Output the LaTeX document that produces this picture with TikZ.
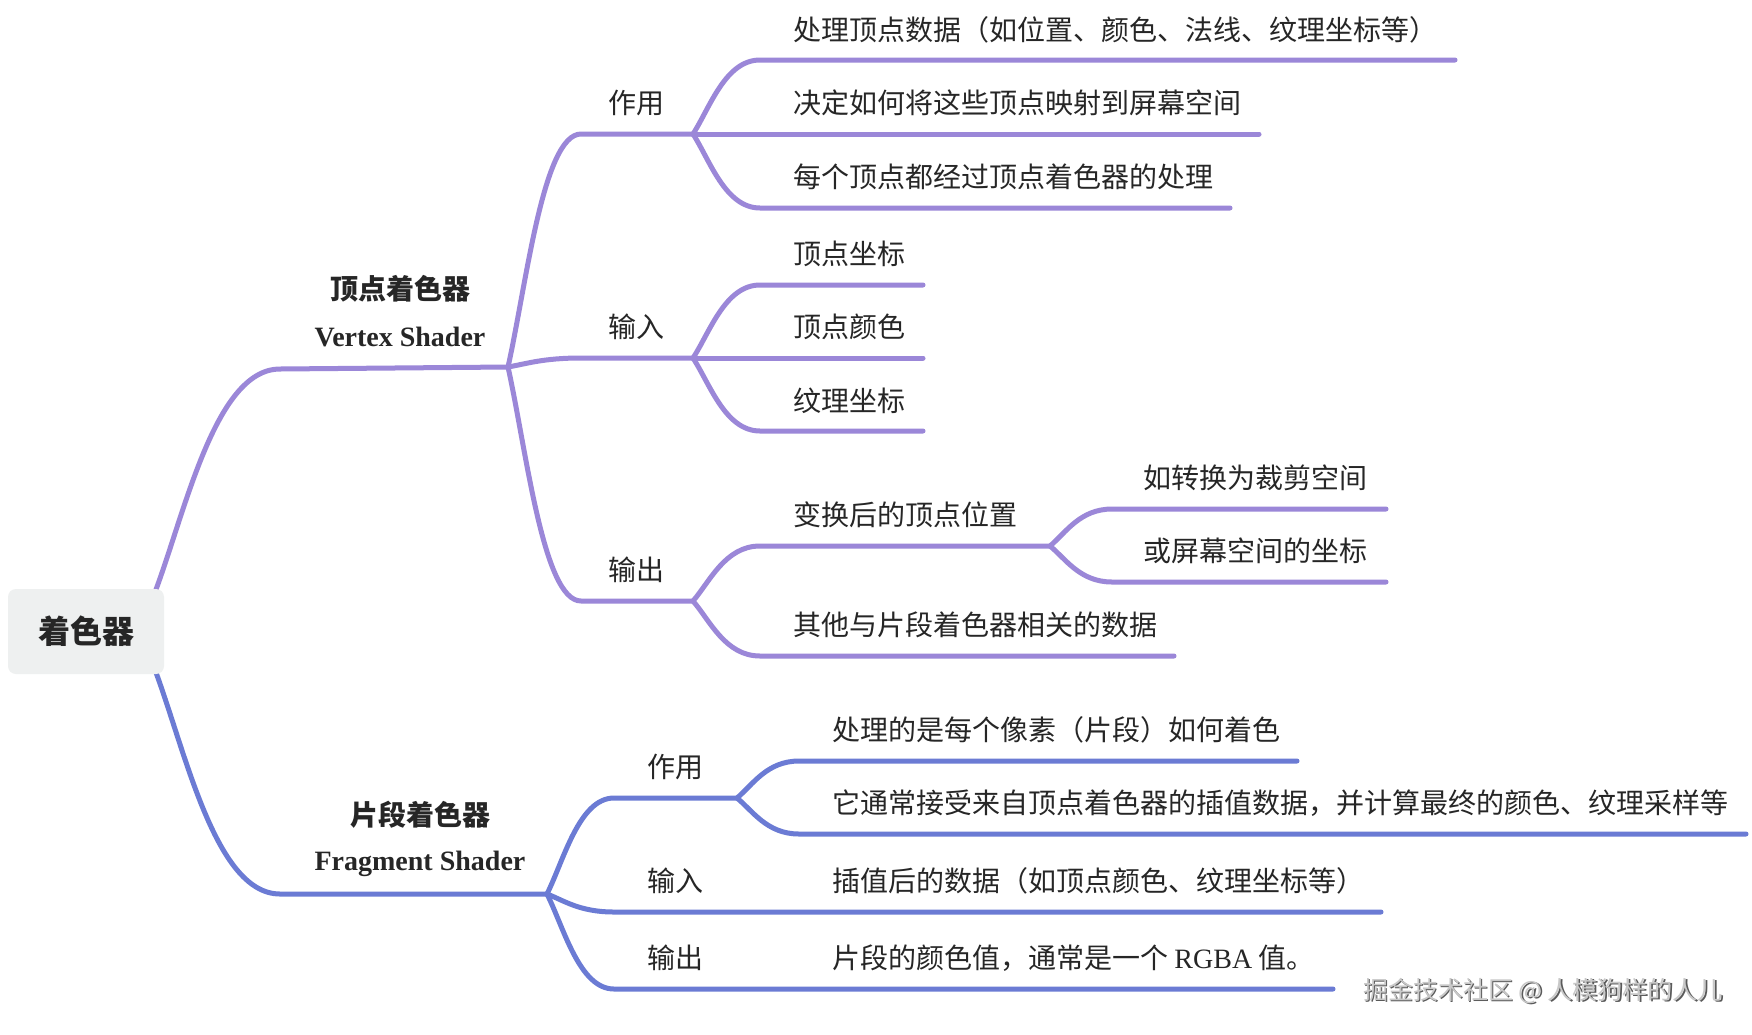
\documentclass[tikz,border=0pt]{standalone}
\usepackage{fontspec}
\setmainfont{Liberation Serif}
\newfontfamily\cjk{Noto Sans CJK SC}
\usetikzlibrary{calc}
\definecolor{vpur}{HTML}{9B87D8}
\definecolor{fblu}{HTML}{6B7BD4}
\definecolor{txt}{HTML}{262626}
\definecolor{rootbg}{HTML}{EEF0F0}
\definecolor{wmfg}{HTML}{C8C8C8}
\definecolor{wmsh}{HTML}{5A5A5A}
\tikzset{
  mm/.style={to path={let \p1=(\tikztostart),\p2=(\tikztotarget) in
     .. controls ({\x1+0.25*(\x2-\x1)},{\y1+0.35*(\y2-\y1)}) and ({\x1+0.48*(\x2-\x1)},\y2) .. (\tikztotarget)}},
  vline/.style={draw=vpur, line width=5pt, line cap=round, line join=round},
  fline/.style={draw=fblu, line width=5pt, line cap=round, line join=round},
  lbl/.style={font=\cjk\fontsize{28}{34}\selectfont, text=txt, inner sep=0pt},
  leaf/.style={lbl, anchor=west},
  ttl/.style={font=\cjk\bfseries\fontsize{28}{34}\selectfont, text=txt, inner sep=0pt},
  ttlen/.style={font=\bfseries\fontsize{28}{34}\selectfont, text=txt, inner sep=0pt},
  wm/.style={font=\cjk\fontsize{25}{30}\selectfont, inner sep=0pt},
}
\begin{document}
\begin{tikzpicture}[x=1pt,y=1pt]
\useasboundingbox[fill=white] (0,0) rectangle (1752,-1034);
% coordinates
\coordinate (r1) at (152,-600);
\coordinate (r2) at (152,-662);
\coordinate (vsL) at (280,-369);
\coordinate (vsJ) at (508,-367);
\coordinate (fsL) at (280,-894);
\coordinate (fsJ) at (547,-894);
% vertex
\coordinate (vaL) at (581,-134); \coordinate (vaJ) at (693,-134);
\coordinate (viL) at (581,-358); \coordinate (viJ) at (693,-358);
\coordinate (voL) at (581,-601); \coordinate (voJ) at (693,-601);
\coordinate (va1L) at (760,-60);  \coordinate (va1E) at (1455,-60);
\coordinate (va2E) at (1259,-134);
\coordinate (va3L) at (760,-208); \coordinate (va3E) at (1230,-208);
\coordinate (vi1L) at (760,-285); \coordinate (vi1E) at (923,-285);
\coordinate (vi2E) at (923,-358);
\coordinate (vi3L) at (760,-431); \coordinate (vi3E) at (923,-431);
\coordinate (vo1L) at (760,-546); \coordinate (vo1J) at (1050,-546);
\coordinate (vo2L) at (760,-656); \coordinate (vo2E) at (1174,-656);
\coordinate (vo11L) at (1112,-509); \coordinate (vo11E) at (1386,-509);
\coordinate (vo12L) at (1112,-582); \coordinate (vo12E) at (1386,-582);
% fragment
\coordinate (faL) at (614,-798); \coordinate (faJ) at (737,-798);
\coordinate (fiL) at (614,-912); \coordinate (fiE) at (1381,-912);
\coordinate (foL) at (614,-989); \coordinate (foE) at (1333,-989);
\coordinate (fa1L) at (799,-761); \coordinate (fa1E) at (1297,-761);
\coordinate (fa2L) at (799,-834); \coordinate (fa2E) at (1746,-834);

% connectors
\draw[vline] (r1) to[mm] (vsL) -- (vsJ);
\draw[vline] (vsJ) to[mm] (vaL) -- (vaJ);
\draw[vline] (vsJ) to[mm] (viL) -- (viJ);
\draw[vline] (vsJ) to[mm] (voL) -- (voJ);
\draw[vline] (vaJ) to[mm] (va1L) -- (va1E);
\draw[vline] (vaJ) -- (va2E);
\draw[vline] (vaJ) to[mm] (va3L) -- (va3E);
\draw[vline] (viJ) to[mm] (vi1L) -- (vi1E);
\draw[vline] (viJ) -- (vi2E);
\draw[vline] (viJ) to[mm] (vi3L) -- (vi3E);
\draw[vline] (voJ) to[mm] (vo1L) -- (vo1J);
\draw[vline] (voJ) to[mm] (vo2L) -- (vo2E);
\draw[vline] (vo1J) to[mm] (vo11L) -- (vo11E);
\draw[vline] (vo1J) to[mm] (vo12L) -- (vo12E);

\draw[fline] (r2) to[mm] (fsL) -- (fsJ);
\draw[fline] (fsJ) to[mm] (faL) -- (faJ);
\draw[fline] (fsJ) to[mm] (fiL) -- (fiE);
\draw[fline] (fsJ) to[mm] (foL) -- (foE);
\draw[fline] (faJ) to[mm] (fa1L) -- (fa1E);
\draw[fline] (faJ) to[mm] (fa2L) -- (fa2E);

% root
\node[fill=rootbg, rounded corners=8pt, minimum width=156pt, minimum height=85pt, inner sep=0pt,
      font=\cjk\bfseries\fontsize{32}{38}\selectfont, text=txt] (root) at (86,-631.5) {着色器};

% titles
\node[ttl] (vsT) at (400,-289) {顶点着色器};
\node[ttlen] (vsE) at (400,-337) {Vertex Shader};
\node[ttl] (fsT) at (420,-815) {片段着色器};
\node[ttlen] (fsE) at (420,-864) {Fragment Shader};

% vertex labels
\node[lbl] (va) at (636,-103) {作用};
\node[lbl] (vi) at (636,-327) {输入};
\node[lbl] (vo) at (636,-570) {输出};
\node[leaf] (va1) at (793,-30) {处理顶点数据（如位置、颜色、法线、纹理坐标等）};
\node[leaf] (va2) at (793,-103) {决定如何将这些顶点映射到屏幕空间};
\node[leaf] (va3) at (793,-177) {每个顶点都经过顶点着色器的处理};
\node[leaf] (vi1) at (793,-254) {顶点坐标};
\node[leaf] (vi2) at (793,-327) {顶点颜色};
\node[leaf] (vi3) at (793,-401) {纹理坐标};
\node[leaf] (vo1) at (793,-515) {变换后的顶点位置};
\node[leaf] (vo11) at (1143,-478) {如转换为裁剪空间};
\node[leaf] (vo12) at (1143,-551) {或屏幕空间的坐标};
\node[leaf] (vo2) at (793,-625) {其他与片段着色器相关的数据};

% fragment labels
\node[lbl] (fa) at (675,-767) {作用};
\node[lbl] (fi) at (675,-881) {输入};
\node[lbl] (fo) at (675,-958) {输出};
\node[leaf] (fa1) at (832,-730) {处理的是每个像素（片段）如何着色};
\node[leaf] (fa2) at (832,-803) {它通常接受来自顶点着色器的插值数据，并计算最终的颜色、纹理采样等};
\node[leaf] (fi1) at (832,-881) {插值后的数据（如顶点颜色、纹理坐标等）};
\node[leaf] (fo1) at (832,-958) {片段的颜色值，通常是一个 {\rmfamily RGBA} 值。};

% watermark
\node[wm, text=wmsh] (wmS) at (1544.5,-992.5) {掘金技术社区 @ 人模狗样的人儿};
\node[wm, text=wmfg] (wmF) at (1543,-991) {掘金技术社区 @ 人模狗样的人儿};
\end{tikzpicture}
\end{document}
